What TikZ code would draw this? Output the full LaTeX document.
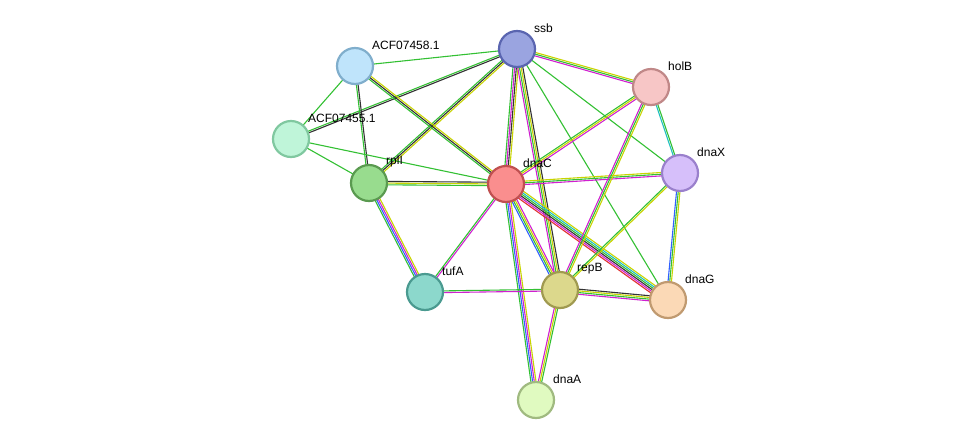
\documentclass[tikz,border=0pt]{standalone}
\usepackage{fontspec}
\setmainfont{Liberation Sans}
\usetikzlibrary{calc}
\definecolor{egreen}{HTML}{33C033}
\definecolor{eyel}{HTML}{C8D400}
\definecolor{emag}{HTML}{D020D0}
\definecolor{eblk}{HTML}{333333}
\definecolor{eblue}{HTML}{3060FF}
\definecolor{ecyan}{HTML}{20C0C0}
\definecolor{ered}{HTML}{E03030}
\newcommand\edge[4]{\foreach \c [count=\i] in {#4} {%
  \pgfmathsetmacro\o{(\i-(#3+1)/2)*1.7}%
  \draw[draw=\c,line width=1.1pt] ($(#1)!\o pt!90:(#2)$) -- ($(#2)!\o pt!-90:(#1)$);}}
\begin{document}
\begin{tikzpicture}[x=1pt,y=-1pt,
  prot/.style={circle,minimum size=36pt,inner sep=0pt,line width=2.2pt},
  lab/.style={font=\fontsize{12}{14}\selectfont,anchor=south west,inner sep=1pt}]
\useasboundingbox (0,0) rectangle (975,445);
\coordinate (ssb) at (517,49);
\coordinate (a58) at (355,66);
\coordinate (holB) at (651,87);
\coordinate (a55) at (291,139);
\coordinate (rplI) at (369,183);
\coordinate (dnaC) at (506,184);
\coordinate (dnaX) at (680,173);
\coordinate (tufA) at (425,292);
\coordinate (repB) at (560,290);
\coordinate (dnaG) at (668,300);
\coordinate (dnaA) at (536,400);
\edge{ssb}{a58}{1}{egreen}
\edge{ssb}{a55}{2}{egreen,eblk}
\edge{ssb}{rplI}{3}{egreen,eblk,eyel}
\edge{ssb}{dnaC}{4}{egreen,emag,eblk,eyel}
\edge{ssb}{holB}{3}{emag,egreen,eyel}
\edge{ssb}{dnaX}{1}{egreen}
\edge{ssb}{repB}{4}{emag,egreen,eyel,eblk}
\edge{ssb}{dnaG}{1}{egreen}
\edge{a58}{a55}{1}{egreen}
\edge{a58}{rplI}{2}{egreen,eblk}
\edge{a58}{dnaC}{3}{egreen,eblk,eyel}
\edge{a55}{rplI}{1}{egreen}
\edge{a55}{dnaC}{1}{egreen}
\edge{rplI}{dnaC}{3}{egreen,eyel,eblk}
\edge{rplI}{tufA}{4}{egreen,eblue,emag,eyel}
\edge{dnaC}{tufA}{2}{egreen,emag}
\edge{dnaC}{holB}{3}{emag,eyel,egreen}
\edge{dnaC}{dnaX}{3}{emag,egreen,eyel}
\edge{dnaC}{repB}{4}{eblue,egreen,eyel,emag}
\edge{dnaC}{dnaG}{6}{ered,emag,eblk,egreen,ecyan,eyel}
\edge{dnaC}{dnaA}{4}{egreen,eblue,emag,eyel}
\edge{holB}{dnaX}{2}{ecyan,egreen}
\edge{holB}{repB}{3}{emag,egreen,eyel}
\edge{dnaX}{repB}{2}{egreen,eyel}
\edge{dnaX}{dnaG}{3}{eblue,egreen,eyel}
\edge{tufA}{repB}{2}{emag,egreen}
\edge{repB}{dnaG}{4}{emag,egreen,eyel,eblk}
\edge{repB}{dnaA}{3}{emag,eyel,egreen}
\node[prot,fill={rgb,255:red,154;green,164;blue,224},draw={rgb,255:red,90;green,101;blue,176}] (n-ssb) at (ssb) {};
\node[prot,fill={rgb,255:red,191;green,228;blue,251},draw={rgb,255:red,128;green,174;blue,204}] (n-a58) at (a58) {};
\node[prot,fill={rgb,255:red,247;green,198;blue,198},draw={rgb,255:red,192;green,136;blue,136}] (n-holB) at (holB) {};
\node[prot,fill={rgb,255:red,191;green,245;blue,217},draw={rgb,255:red,128;green,200;blue,160}] (n-a55) at (a55) {};
\node[prot,fill={rgb,255:red,152;green,220;blue,142},draw={rgb,255:red,90;green,154;blue,80}] (n-rplI) at (rplI) {};
\node[prot,fill={rgb,255:red,250;green,142;blue,142},draw={rgb,255:red,192;green,80;blue,80}] (n-dnaC) at (dnaC) {};
\node[prot,fill={rgb,255:red,214;green,191;blue,250},draw={rgb,255:red,154;green,128;blue,204}] (n-dnaX) at (dnaX) {};
\node[prot,fill={rgb,255:red,140;green,216;blue,204},draw={rgb,255:red,74;green,154;blue,144}] (n-tufA) at (tufA) {};
\node[prot,fill={rgb,255:red,220;green,216;blue,140},draw={rgb,255:red,160;green,154;blue,80}] (n-repB) at (repB) {};
\node[prot,fill={rgb,255:red,251;green,217;blue,182},draw={rgb,255:red,192;green,154;blue,112}] (n-dnaG) at (dnaG) {};
\node[prot,fill={rgb,255:red,224;green,250;blue,192},draw={rgb,255:red,160;green,186;blue,128}] (n-dnaA) at (dnaA) {};
\node[lab] (l-ssb) at (533,34) {ssb};
\node[lab] (l-a58) at (371,51) {ACF07458.1};
\node[lab] (l-holB) at (667,72) {holB};
\node[lab] (l-a55) at (307,124) {ACF07455.1};
\node[lab] (l-rplI) at (385,168) {rplI};
\node[lab] (l-dnaC) at (522,169) {dnaC};
\node[lab] (l-dnaX) at (696,158) {dnaX};
\node[lab] (l-tufA) at (441,277) {tufA};
\node[lab] (l-repB) at (576,275) {repB};
\node[lab] (l-dnaG) at (684,285) {dnaG};
\node[lab] (l-dnaA) at (552,385) {dnaA};
\end{tikzpicture}
\end{document}
